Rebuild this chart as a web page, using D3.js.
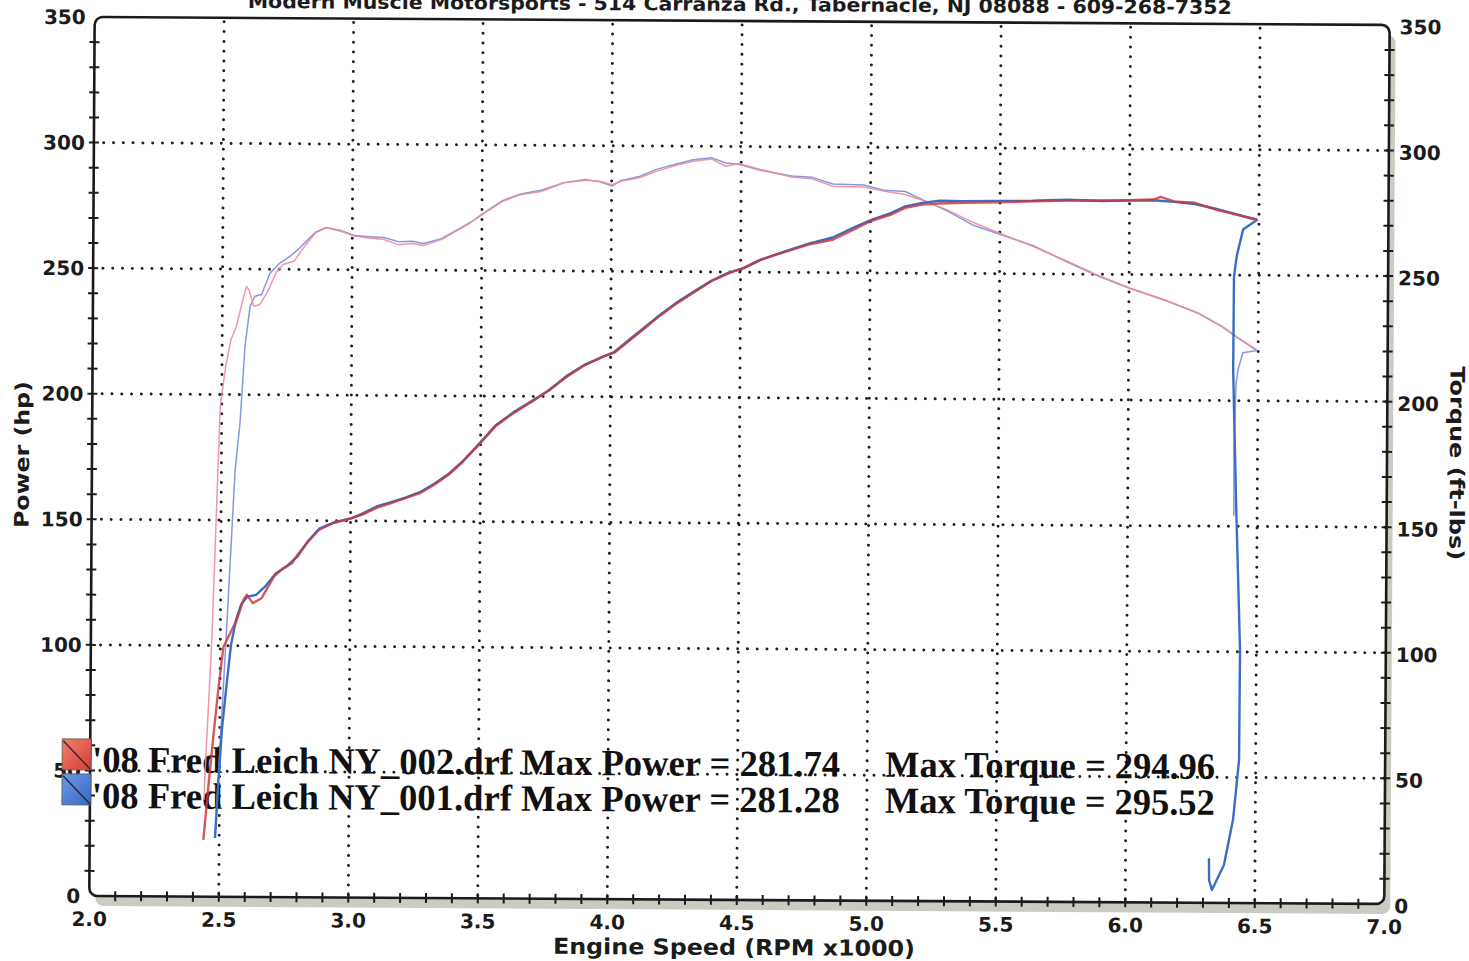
<!DOCTYPE html>
<html>
<head>
<meta charset="utf-8">
<script src="https://cdn.jsdelivr.net/npm/d3@7"></script>
<style>
	body { margin: 0; background: #fff; }
	svg { display: block; }
	.tick-label { font-family: "DejaVu Sans", Verdana, sans-serif; font-weight: bold; font-size: 20px; fill: #1b1b1b; }
	.axis-title { font-family: "DejaVu Sans", Verdana, sans-serif; font-weight: bold; fill: #1b1b1b; }
	.legend-text { font-family: "Liberation Serif", "Times New Roman", serif; font-weight: bold; font-size: 37px; fill: #111; }
</style>
</head>
<body>
<svg id="chart" width="1469" height="961"></svg>
<script>
// dyno sheet: two runs, power (hp, left axis) + torque (ft-lbs, right axis) vs rpm x1000
const titleText = "Modern Muscle Motorsports - 514 Carranza Rd., Tabernacle, NJ 08088 - 609-268-7352"
const xTitle = "Engine Speed (RPM x1000)"
const yTitleLeft = "Power (hp)"
const yTitleRight = "Torque (ft-lbs)"

const rpmDomain = [2, 7]
const valueDomain = [0, 350]

const legendNames = ["'08 Fred Leich  NY_002.drf", "'08 Fred Leich  NY_001.drf"]
const legendMaxPower = ["281.74", "281.28"]
const legendMaxTorque = ["294.96", "295.52"]

// [rpm x1000, hp]
const power002 = [[2.439,22.6],[2.457,43.8],[2.475,63.8],[2.493,82.4],[2.512,99.6],[2.531,103.6],[2.563,110.3],[2.588,118.3],[2.601,120.3],[2.624,117.0],[2.658,119.0],[2.706,127.7],[2.741,131.0],[2.775,133.0],[2.796,136.4],[2.837,141.7],[2.879,146.4],[2.934,149.1],[3.003,151.1],[3.045,152.5],[3.100,155.2],[3.156,157.2],[3.211,159.2],[3.267,161.2],[3.322,164.6],[3.377,168.6],[3.433,173.9],[3.488,180.0],[3.557,188.0],[3.626,193.3],[3.709,198.7],[3.764,202.7],[3.833,208.0],[3.903,212.7],[3.972,216.1],[4.013,217.5],[4.069,222.2],[4.124,226.8],[4.179,231.6],[4.248,236.9],[4.317,241.6],[4.387,246.3],[4.456,249.6],[4.511,251.7],[4.576,255.0],[4.656,257.7],[4.762,261.1],[4.855,263.1],[4.935,267.2],[5.001,270.6],[5.081,273.3],[5.134,276.0],[5.200,277.3],[5.267,277.8],[5.360,278.1],[5.493,278.4],[5.626,278.9],[5.759,279.3],[5.892,279.4],[6.000,279.6],[6.092,279.9],[6.120,281.0],[6.172,279.2],[6.252,278.7],[6.332,276.1],[6.412,274.1],[6.492,272.2]]

const power001 = [[2.484,23.4],[2.496,46.5],[2.508,66.5],[2.523,82.4],[2.541,100.3],[2.560,110.3],[2.579,116.3],[2.603,119.6],[2.637,120.3],[2.672,123.7],[2.713,129.0],[2.754,131.7],[2.796,135.7],[2.837,142.0],[2.879,146.8],[2.934,149.3],[3.003,151.0],[3.045,152.9],[3.100,155.8],[3.156,157.6],[3.211,159.4],[3.267,161.6],[3.322,165.0],[3.377,168.9],[3.433,174.2],[3.488,180.3],[3.557,188.3],[3.626,193.6],[3.709,199.0],[3.764,202.5],[3.833,208.4],[3.903,212.9],[3.972,216.0],[4.013,217.8],[4.069,222.6],[4.124,227.2],[4.179,231.9],[4.248,237.3],[4.317,242.0],[4.387,246.5],[4.456,249.9],[4.511,251.5],[4.576,254.8],[4.656,257.9],[4.762,261.5],[4.855,264.0],[4.935,268.0],[5.001,271.0],[5.081,274.0],[5.134,276.6],[5.200,278.0],[5.267,278.9],[5.360,278.8],[5.493,279.0],[5.626,279.1],[5.759,279.6],[5.892,279.2],[6.000,279.4],[6.092,279.6],[6.172,279.0],[6.252,278.2],[6.332,276.4],[6.412,274.3],[6.492,272.0],[6.439,268.2],[6.415,257.5],[6.405,249.4],[6.404,212.4],[6.418,160.6],[6.437,100.8],[6.436,57.0],[6.414,33.1],[6.380,15.1],[6.334,5.1],[6.323,9.1],[6.322,17.8]]

// [rpm x1000, ft-lbs]
const torque002 = [[2.441,38.5],[2.444,49.3],[2.467,102.3],[2.494,195.3],[2.514,211.2],[2.534,221.9],[2.555,227.2],[2.579,237.8],[2.593,243.1],[2.602,241.8],[2.621,235.2],[2.644,235.9],[2.672,240.6],[2.706,248.5],[2.733,251.9],[2.775,253.2],[2.816,259.2],[2.858,264.6],[2.899,266.6],[2.955,265.3],[3.011,263.3],[3.066,262.7],[3.122,262.1],[3.178,260.1],[3.233,260.6],[3.275,259.8],[3.344,262.2],[3.399,265.5],[3.455,268.9],[3.510,272.9],[3.579,277.6],[3.649,280.3],[3.732,281.7],[3.815,285.1],[3.898,286.2],[3.954,285.8],[4.003,284.5],[4.037,285.9],[4.107,287.3],[4.176,290.0],[4.245,292.3],[4.314,294.0],[4.384,295.0],[4.440,292.1],[4.494,293.2],[4.574,290.9],[4.694,288.0],[4.774,287.3],[4.854,284.4],[4.974,284.2],[5.054,282.5],[5.134,281.3],[5.200,279.0],[5.294,275.4],[5.400,270.2],[5.494,266.3],[5.627,261.0],[5.761,255.1],[5.881,249.5],[6.001,244.7],[6.134,240.1],[6.268,234.9],[6.361,229.6],[6.414,225.6],[6.495,220.4]]

const torque001 = [[2.484,24.4],[2.522,102.6],[2.553,170.1],[2.571,189.1],[2.588,219.2],[2.607,235.2],[2.625,239.2],[2.651,239.9],[2.683,248.5],[2.721,252.5],[2.760,255.2],[2.798,258.6],[2.858,264.9],[2.899,266.8],[2.955,265.6],[3.011,263.6],[3.066,263.2],[3.122,262.9],[3.178,261.3],[3.233,261.5],[3.275,260.6],[3.344,262.6],[3.399,265.8],[3.455,269.1],[3.510,273.2],[3.579,277.9],[3.649,280.6],[3.732,282.2],[3.815,285.2],[3.898,286.5],[3.954,285.6],[4.003,284.0],[4.037,286.2],[4.107,287.8],[4.176,290.8],[4.245,292.8],[4.314,294.6],[4.384,295.5],[4.440,293.4],[4.494,292.8],[4.574,290.6],[4.694,288.4],[4.774,287.9],[4.854,285.3],[4.974,285.0],[5.054,282.9],[5.134,282.5],[5.200,279.3],[5.294,275.0],[5.400,269.1],[5.494,265.9],[5.627,261.3],[5.761,254.8],[5.881,249.3],[6.001,244.5],[6.134,240.0],[6.268,234.7],[6.361,229.4],[6.414,225.5],[6.495,220.0],[6.441,219.1],[6.423,212.4],[6.415,206.4],[6.409,180.5],[6.410,154.0]]

const RED = "#c8373d", BLUE = "#3b6dc4", PINK = "#ee8c9d", LILAC = "#8797e0"

// plot box (bottom-left corner is the pivot, the scanned sheet is a bit tilted)
const ORIGIN = { x: 89.3, y: 896 }
const PW = 1295, PH = 879, TILT = 0.35

const svg = d3.select("#chart")
svg.append("rect").attr("width", 1469).attr("height", 961).attr("fill", "#fff")

const g = svg.append("g")
	.attr("transform", `rotate(${TILT},${ORIGIN.x},${ORIGIN.y}) translate(${ORIGIN.x},${ORIGIN.y - PH})`)

const x = d3.scaleLinear().domain(rpmDomain).range([0, PW])
const y = d3.scaleLinear().domain(valueDomain).range([PH, 0])

// shadow + frame
g.append("rect").attr("x", 6).attr("y", 10).attr("width", PW).attr("height", PH)
	.attr("rx", 8).attr("fill", "#c9ccc1")
g.append("rect").attr("width", PW).attr("height", PH).attr("rx", 8).attr("fill", "#fff")

// dotted grid
const dotted = sel => sel.attr("stroke", "#1e1e1e").attr("stroke-width", 3)
	.attr("stroke-linecap", "round").attr("stroke-dasharray", "0 9.8")
g.append("g").selectAll("line")
	.data(y.ticks(7).filter(d => d > 0 && d < 350))
	.join("line")
		.attr("x1", 0).attr("x2", PW)
		.attr("y1", d => y(d)).attr("y2", d => y(d))
		.call(dotted)
g.append("g").selectAll("line")
	.data(x.ticks(10).filter(d => d > 2 && d < 7))
	.join("line")
		.attr("x1", d => x(d)).attr("x2", d => x(d))
		.attr("y1", 4).attr("y2", PH)
		.call(dotted)

// frame line on top of grid
g.append("rect").attr("width", PW).attr("height", PH).attr("rx", 8)
	.attr("fill", "none").attr("stroke", "#1b1b1b").attr("stroke-width", 2.6)

// minor ticks crossing the axes
const minorY = y.ticks(35).filter(d => d > 0 && d < 350)
const minorX = x.ticks(50).filter(d => d > 2 && d < 7)
g.append("g").selectAll("line").data(minorY).join("line")
	.attr("x1", -5).attr("x2", 5).attr("y1", d => y(d)).attr("y2", d => y(d))
	.attr("stroke", "#1b1b1b").attr("stroke-width", 2)
g.append("g").selectAll("line").data(minorY).join("line")
	.attr("x1", PW - 5).attr("x2", PW + 5).attr("y1", d => y(d)).attr("y2", d => y(d))
	.attr("stroke", "#1b1b1b").attr("stroke-width", 2)
g.append("g").selectAll("line").data(minorX).join("line")
	.attr("x1", d => x(d)).attr("x2", d => x(d)).attr("y1", PH - 5).attr("y2", PH + 5)
	.attr("stroke", "#1b1b1b").attr("stroke-width", 2)

// tick labels
g.append("g").selectAll("text").data(y.ticks(7)).join("text")
	.attr("class", "tick-label").attr("text-anchor", "end")
	.attr("x", -9).attr("y", d => y(d)).attr("dy", "0.36em")
	.text(d => d)
g.append("g").selectAll("text").data(y.ticks(7)).join("text")
	.attr("class", "tick-label").attr("text-anchor", "start")
	.attr("x", PW + 10).attr("y", d => y(d) + 2).attr("dy", "0.36em")
	.text(d => d)
g.append("g").selectAll("text").data(x.ticks(10)).join("text")
	.attr("class", "tick-label").attr("text-anchor", "middle")
	.attr("x", d => x(d)).attr("y", PH + 30)
	.text(d3.format(".1f"))

// titles
g.append("text").attr("class", "axis-title").attr("font-size", 19)
	.attr("x", 645).attr("y", -10).attr("text-anchor", "middle")
	.attr("textLength", 984).attr("lengthAdjust", "spacingAndGlyphs")
	.text(titleText)
g.append("text").attr("class", "axis-title").attr("font-size", 22)
	.attr("x", 645).attr("y", PH + 55).attr("text-anchor", "middle")
	.attr("textLength", 362).attr("lengthAdjust", "spacingAndGlyphs")
	.text(xTitle)
g.append("text").attr("class", "axis-title").attr("font-size", 20)
	.attr("transform", `translate(-63,438) rotate(-90)`).attr("text-anchor", "middle")
	.attr("textLength", 147).attr("lengthAdjust", "spacingAndGlyphs")
	.text(yTitleLeft)
g.append("text").attr("class", "axis-title").attr("font-size", 20)
	.attr("transform", `translate(1358,438) rotate(90)`).attr("text-anchor", "middle")
	.attr("textLength", 194).attr("lengthAdjust", "spacingAndGlyphs")
	.text(yTitleRight)

// legend
const legendRows = [0, 1]
const legendFill = [["#f0826f", "#d93b32"], ["#6f9be6", "#3466c6"]]
const defs = svg.append("defs")
legendRows.forEach(i => {
	const grad = defs.append("linearGradient").attr("id", "lg" + i)
		.attr("x1", 0).attr("y1", 0).attr("x2", 1).attr("y2", 1)
	grad.append("stop").attr("offset", "0%").attr("stop-color", legendFill[i][0])
	grad.append("stop").attr("offset", "100%").attr("stop-color", legendFill[i][1])
})
const legend = g.append("g")
legend.selectAll("rect").data(legendRows).join("rect")
	.attr("x", -28).attr("y", i => 722 + i * 35).attr("width", 29).attr("height", 31)
	.attr("fill", i => `url(#lg${i})`).attr("stroke", "#555").attr("stroke-width", 0.8)
legend.selectAll("line").data(legendRows).join("line")
	.attr("x1", -27).attr("y1", i => 724 + i * 35).attr("x2", 0).attr("y2", i => 752 + i * 35)
	.attr("stroke", "#2a2a2a").attr("stroke-width", 1.4)
legend.selectAll("text.name").data(legendRows).join("text")
	.attr("class", "legend-text name")
	.attr("x", 2).attr("y", i => 755 + i * 36)
	.attr("textLength", 748).attr("lengthAdjust", "spacingAndGlyphs")
	.text(i => `${legendNames[i]} Max Power = ${legendMaxPower[i]}`)
legend.selectAll("text.torque").data(legendRows).join("text")
	.attr("class", "legend-text torque")
	.attr("x", 795).attr("y", i => 755 + i * 36)
	.attr("textLength", 330).attr("lengthAdjust", "spacingAndGlyphs")
	.text(i => `Max Torque = ${legendMaxTorque[i]}`)

// curves
const line = d3.line().x(d => x(d[0])).y(d => y(d[1]))
const curves = [
	{ data: torque001, color: LILAC, width: 1.5, opacity: 1 },
	{ data: torque002, color: PINK, width: 1.5, opacity: 0.9 },
	{ data: power001, color: BLUE, width: 2.4, opacity: 1 },
	{ data: power002, color: RED, width: 2.4, opacity: 0.82 },
]
g.append("g").selectAll("path").data(curves).join("path")
	.attr("d", d => line(d.data))
	.attr("fill", "none")
	.attr("stroke", d => d.color)
	.attr("stroke-width", d => d.width)
	.attr("stroke-opacity", d => d.opacity)
	.attr("stroke-linejoin", "round")
</script>
</body>
</html>
